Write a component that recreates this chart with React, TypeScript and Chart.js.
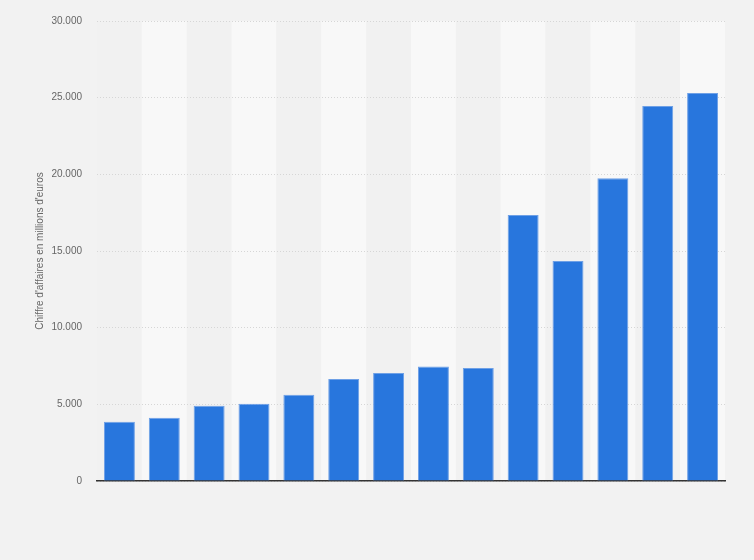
import React, { useEffect, useRef } from "react";
import { Chart, registerables } from "chart.js";

Chart.register(...registerables);

const categories = ["2008", "2009", "2010", "2011", "2012", "2013", "2014", "2015", "2016", "2017", "2018", "2019", "2020", "2021"];
const revenue = [3860, 4120, 4900, 5030, 5620, 6660, 7050, 7460, 7370, 17340, 14340, 19750, 24460, 25310];
const yTicks = [0, 5000, 10000, 15000, 20000, 25000, 30000];
const yTitle = "Chiffre d'affaires en millions d'euros";

const fmt = (v: number) => String(v).replace(/\B(?=(\d{3})+(?!\d))/g, ".");

const stripes = {
  id: "stripes",
  beforeDraw(chart: any) {
    const { ctx, chartArea, scales } = chart;
    const x = scales.x;
    const n = categories.length;
    const w = (chartArea.right - chartArea.left) / n;
    ctx.save();
    for (let i = 0; i < n; i++) {
      const c = x.getPixelForValue(i);
      ctx.fillStyle = i % 2 === 1 ? "#f8f8f8" : "#f1f1f1";
      ctx.fillRect(c - w / 2, chartArea.top, w, chartArea.bottom - chartArea.top);
    }
    ctx.restore();
  },
};

export default function App() {
  const ref = useRef<HTMLCanvasElement>(null);
  useEffect(() => {
    const chart = new Chart(ref.current!, {
      type: "bar",
      data: {
        labels: categories,
        datasets: [
          {
            data: revenue,
            backgroundColor: "#2876dd",
            borderColor: "#6ea0e6",
            borderWidth: 1,
            barPercentage: 0.69,
            categoryPercentage: 1,
          },
        ],
      },
      plugins: [stripes],
      options: {
        animation: false,
        responsive: true,
        maintainAspectRatio: false,
        layout: { padding: { left: 0, top: 20, right: 29, bottom: 0 } },
        plugins: { legend: { display: false }, tooltip: { enabled: false } },
        scales: {
          x: {
            ticks: { display: false },
            grid: { display: false, drawTicks: false },
            border: { display: true, color: "#333333", width: 1.5 },
            afterFit(scale: any) {
              scale.height = 79;
            },
          },
          y: {
            min: 0,
            max: 30000,
            afterBuildTicks(scale: any) {
              scale.ticks = yTicks.map((v) => ({ value: v }));
            },
            ticks: {
              callback: (v: any) => fmt(Number(v)),
              color: "#666666",
              font: { family: "Liberation Sans, Arial, sans-serif", size: 10 },
              padding: 15,
            },
            grid: {
              color: "#d6d6d6",
              drawTicks: false,
              lineWidth: 1,
            },
            border: { display: false, dash: [1, 2] },
            title: {
              display: true,
              text: yTitle,
              color: "#666666",
              font: { family: "Liberation Sans, Arial, sans-serif", size: 10 },
              padding: { top: 34, bottom: 0 },
            },
            afterFit(scale: any) {
              scale.width = 97;
            },
          },
        },
      },
    });
    return () => chart.destroy();
  }, []);
  return (
    <div style={{ position: "absolute", left: 0, top: 0, width: 754, height: 560, background: "#f2f2f2" }}>
      <canvas ref={ref} />
    </div>
  );
}
